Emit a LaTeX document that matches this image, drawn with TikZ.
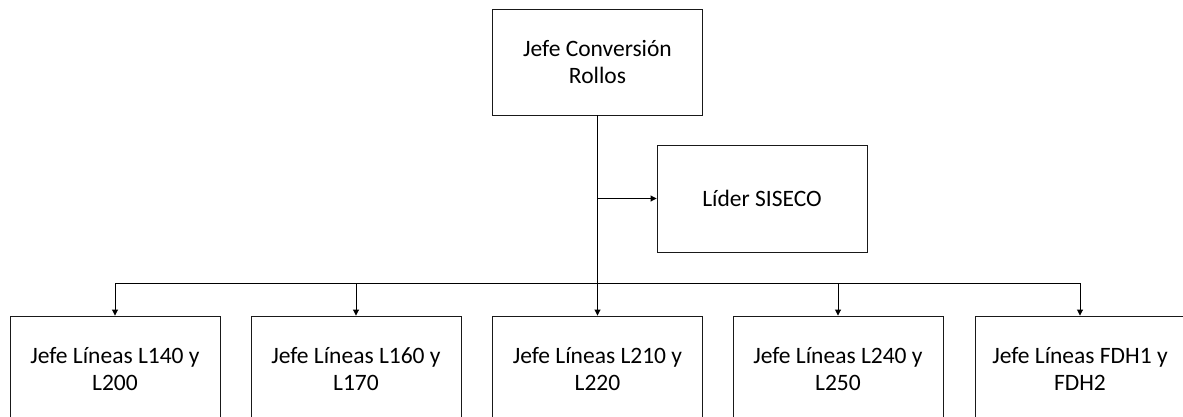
\documentclass[tikz,border=0pt]{standalone}
\usepackage{fontspec}
\setmainfont{Carlito}
\usetikzlibrary{arrows.meta}
\tikzset{
  orgbox/.style={draw=black!90, line width=0.9pt, fill=white, rectangle,
    minimum width=210pt, minimum height=106pt, align=center, inner sep=0pt,
    font=\fontsize{23.5pt}{27.5pt}\selectfont, text=black},
  link/.style={draw=black, line width=0.9pt},
  linkarrow/.style={link, -{Triangle[length=6pt,width=6pt]}}
}
\begin{document}
\begin{tikzpicture}[x=1pt,y=-1pt]
  \useasboundingbox (0,0) rectangle (1183,417);
  \clip (0,0) rectangle (1183,417);
  \fill[white] (0,0) rectangle (1183,417);

  % head of the unit
  \node[orgbox] (jefe) at (597.5,62) {Jefe Conversión\\Rollos};
  % staff position
  \node[orgbox, minimum height=107pt] (lider) at (762,198.5) {Líder SISECO};
  % line managers (bottom edges run off the page)
  \node[orgbox] (l1) at (115,369) {Jefe Líneas L140 y\\L200};
  \node[orgbox] (l2) at (356,369) {Jefe Líneas L160 y\\L170};
  \node[orgbox] (l3) at (597.5,369) {Jefe Líneas L210 y\\L220};
  \node[orgbox] (l4) at (838,369) {Jefe Líneas L240 y\\L250};
  \node[orgbox] (l5) at (1080,369) {Jefe Líneas FDH1 y\\FDH2};

  % trunk and branches
  \coordinate (bus) at (597.5,283);
  \draw[linkarrow] (jefe.south) -- (l3.north);
  \draw[linkarrow] (jefe.south |- lider.west) -- (lider.west);
  \draw[link] (l1.north |- bus) -- (l5.north |- bus);
  \foreach \n in {l1,l2,l4,l5}
    \draw[linkarrow] (\n.north |- bus) -- (\n.north);
\end{tikzpicture}
\end{document}
